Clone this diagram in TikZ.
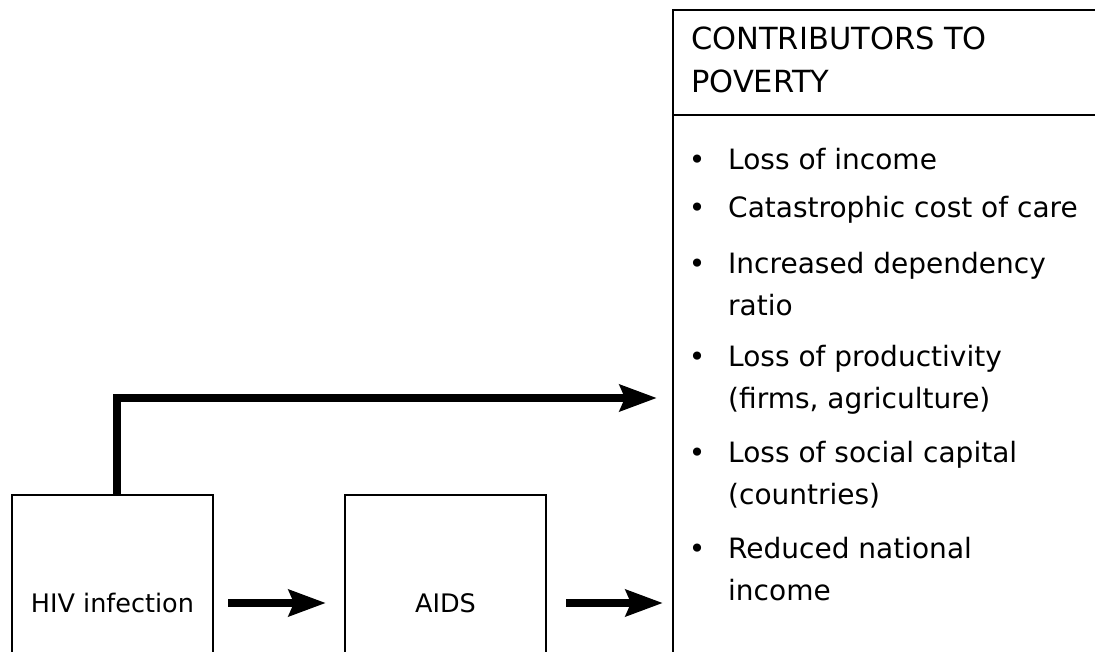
\documentclass[tikz,border=0pt]{standalone}
\usepackage{fontspec}
\setmainfont{DejaVu Sans}
\usetikzlibrary{arrows.meta}
\begin{document}
\begin{tikzpicture}[x=1pt,y=-1pt,
  box/.style={draw,line width=1.3pt,minimum width=201pt,minimum height=216pt,inner sep=0pt,outer sep=0pt,font=\fontsize{25.5}{30}\selectfont},
  fat/.style={line width=8pt,-{Stealth[length=37pt,width=26pt,inset=5pt]}},
  itemtext/.style={anchor=base west,inner sep=0pt,font=\fontsize{28}{42}\selectfont},
  headtext/.style={anchor=base west,inner sep=0pt,font=\fontsize{30.5}{43}\selectfont},
  bul/.style={anchor=base,inner sep=0pt,font=\fontsize{28}{42}\selectfont}]
\clip (0,0) rectangle (1095,652);
% boxes
\node[box] (hiv) at (112.5,603) {HIV infection};
\node[box] (aids) at (445.5,603) {AIDS};
\node[draw,line width=2.3pt,inner sep=0pt,outer sep=0pt,minimum width=460pt,minimum height=700pt,anchor=north west] (contrib) at (673,10) {};
\coordinate (divl) at (673,115);
\coordinate (divr) at (1133,115);
\draw[line width=2pt] (divl) -- (divr);
% header
\node[headtext] (h1) at (691,50) {CONTRIBUTORS TO};
\node[headtext] (h2) at (691,93) {POVERTY};
% bullets
\foreach \y/\n in {170/b1,218/b2,274/b3,366/b4,462/b5,558/b6}
  \node[bul] (\n) at (697,\y) {•};
\node[itemtext] (t1) at (728,170) {Loss of income};
\node[itemtext] (t2) at (728,218) {Catastrophic cost of care};
\node[itemtext] (t3a) at (728,274) {Increased dependency};
\node[itemtext] (t3b) at (728,316) {ratio};
\node[itemtext] (t4a) at (728,366) {Loss of productivity};
\node[itemtext] (t4b) at (728,408) {(firms, agriculture)};
\node[itemtext] (t5a) at (728,462) {Loss of social capital};
\node[itemtext] (t5b) at (728,504) {(countries)};
\node[itemtext] (t6a) at (728,558) {Reduced national};
\node[itemtext] (t6b) at (728,600) {income};
% arrows
\draw[fat,shorten <=15pt,shorten >=19pt] (hiv.east) -- (aids.west);
\draw[fat,shorten <=20pt,shorten >=10pt] (aids.east) -- (aids.east -| contrib.west);
\coordinate (tap) at (673,398);
\draw[fat,shorten >=16pt] ([xshift=4pt]hiv.north) |- (tap);
\end{tikzpicture}
\end{document}
